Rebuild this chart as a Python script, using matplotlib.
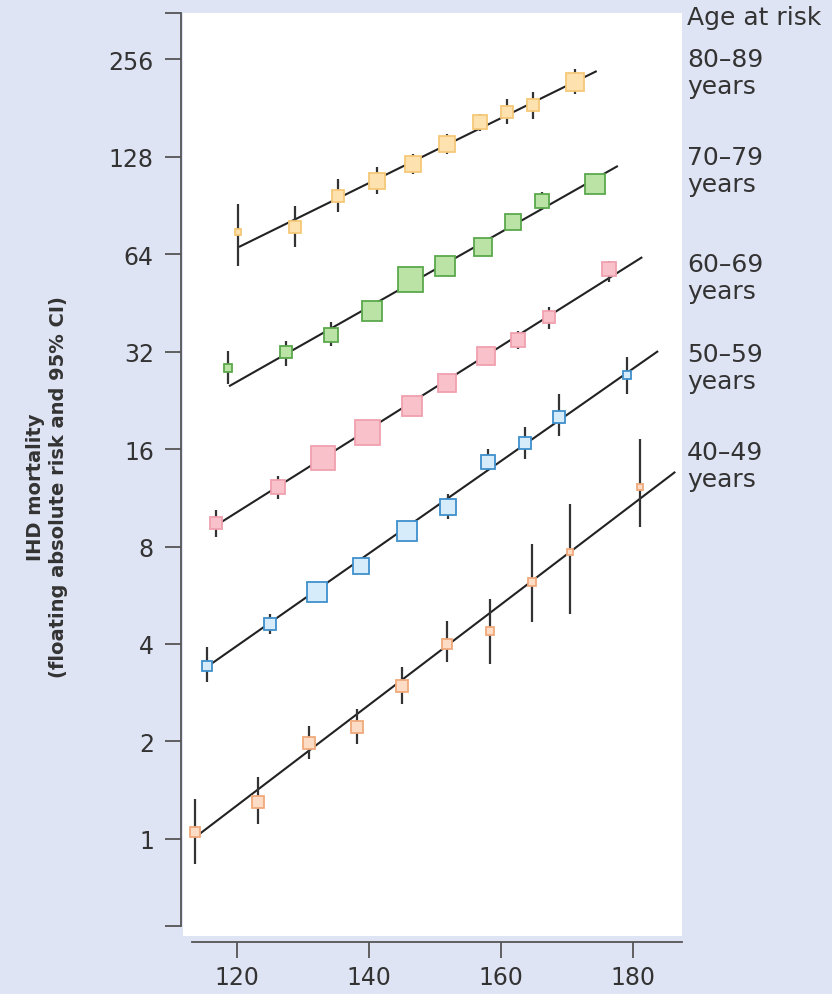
import matplotlib
matplotlib.use("Agg")
import matplotlib.pyplot as plt
from matplotlib.ticker import FixedLocator, FixedFormatter, NullLocator
import numpy as np

# ---------------- data ----------------
groups = ["40\u201349\nyears", "50\u201359\nyears", "60\u201369\nyears",
          "70\u201379\nyears", "80\u201389\nyears"]

sbp_4049 = [113.6, 123.2, 130.9, 138.2, 145.0, 151.8, 158.3, 164.7, 170.5, 181.1]
risk_4049 = [1.05, 1.30, 1.98, 2.22, 2.97, 4.0, 4.39, 6.21, 7.69, 12.2]
lo_4049 = [0.837, 1.11, 1.77, 1.96, 2.61, 3.52, 3.47, 4.68, 4.95, 9.19]
hi_4049 = [1.33, 1.55, 2.23, 2.52, 3.40, 4.71, 5.51, 8.14, 10.8, 17.2]
size_4049 = [7, 8, 8, 8, 8, 7, 6, 6, 5, 5]

sbp_5059 = [115.45, 125.0, 132.1, 138.8, 145.8, 152.0, 158.0, 163.6, 168.8, 179.1]
risk_5059 = [3.42, 4.61, 5.79, 6.96, 8.93, 10.6, 14.6, 16.7, 20.1, 27.1]
lo_5059 = [3.05, 4.29, 5.55, 6.65, 8.6, 9.73, 13.9, 14.9, 17.5, 23.7]
hi_5059 = [3.92, 4.95, 6.05, 7.3, 9.3, 11.6, 16.0, 18.7, 23.7, 30.8]
size_5059 = [7, 9, 15, 12, 14, 11, 10, 9, 8, 6]

sbp_6069 = [116.8, 126.2, 133.0, 139.7, 146.5, 151.8, 157.7, 162.6, 167.3, 176.4]
risk_6069 = [9.45, 12.2, 15.0, 18.1, 21.7, 25.6, 31.0, 34.7, 40.9, 57.5]
lo_6069 = [8.56, 11.2, 14.4, 17.4, 20.9, 24.5, 29.6, 32.6, 37.5, 52.4]
hi_6069 = [10.4, 13.2, 15.6, 18.8, 22.6, 26.8, 32.4, 37.0, 43.9, 60.9]
size_6069 = [8, 10, 17, 18, 14, 13, 13, 10, 9, 10]

sbp_7079 = [118.6, 127.4, 134.2, 140.5, 146.2, 151.5, 157.3, 161.8, 166.2, 174.2]
risk_7079 = [28.5, 31.9, 36.0, 42.7, 53.6, 58.8, 67.3, 80.4, 93.3, 105.0]
lo_7079 = [25.4, 28.9, 33.3, 41.0, 51.6, 56.4, 64.4, 76.5, 89.4, 100.0]
hi_7079 = [32.1, 34.5, 39.5, 44.5, 55.7, 61.3, 70.3, 84.5, 99.5, 110.0]
size_7079 = [6, 9, 10, 14, 18, 15, 13, 12, 10, 15]

sbp_8089 = [120.15, 128.8, 135.3, 141.2, 146.7, 151.8, 156.8, 160.9, 164.8, 171.2]
risk_8089 = [74.8, 77.6, 96.7, 107.5, 121.4, 139.9, 163.6, 175.6, 184.6, 217.5]
lo_8089 = [58.8, 67.3, 86.3, 98.0, 113.0, 130.0, 153.0, 161.0, 167.0, 200.0]
hi_8089 = [91.3, 90.0, 109.0, 119.0, 130.0, 150.0, 173.0, 193.0, 202.0, 238.0]
size_8089 = [5, 9, 9, 11, 11, 11, 10, 9, 9, 13]

fit_x = [[113.6, 186.4], [115.45, 183.8], [116.7, 181.4], [118.8, 177.7], [120.3, 174.5]]
fit_y = [[1.01, 13.6], [3.40, 32.1], [9.26, 62.6], [25.0, 119.7], [67.3, 235.0]]

yticks = [1, 2, 4, 8, 16, 32, 64, 128, 256]
xticks = [120, 140, 160, 180]

# ---------------- style ----------------
bg = "#dfe4f4"
fills = ["#fcdcc4", "#d6ecfa", "#f9c2ca", "#bce3a6", "#fde2b0"]
edges = ["#f0aa7c", "#3f90cc", "#f0a0ae", "#5aa84c", "#f5c878"]

W, H = 832, 995
fig = plt.figure(figsize=(W / 100, H / 100), dpi=100, facecolor=bg)

def fx(px):
    return px / W

def fy(py):
    return 1 - py / H

ax = fig.add_axes([fx(183), fy(937), fx(682) - fx(183), fy(14) - fy(937)])
ax.set_facecolor("white")
ax.set_yscale("log", base=2)
ax.set_xlim(111.82, 187.42)
ax.set_ylim(2 ** -0.995, 2 ** 8.472)

series = [
    (sbp_4049, risk_4049, lo_4049, hi_4049, size_4049),
    (sbp_5059, risk_5059, lo_5059, hi_5059, size_5059),
    (sbp_6069, risk_6069, lo_6069, hi_6069, size_6069),
    (sbp_7079, risk_7079, lo_7079, hi_7079, size_7079),
    (sbp_8089, risk_8089, lo_8089, hi_8089, size_8089),
]

for i, (xs, ys, lo, hi, sz) in enumerate(series):
    ax.plot(fit_x[i], fit_y[i], color="#222222", lw=1.5, zorder=2,
            solid_capstyle="butt")
    ax.vlines(xs, lo, hi, color="#333333", lw=1.6, zorder=2.5)
    for x, y, s in zip(xs, ys, sz):
        ax.plot([x], [y], marker="s", ms=s, mfc=fills[i], mec=edges[i],
                mew=1.3, ls="none", zorder=3)

# spines
for s in ["top", "right"]:
    ax.spines[s].set_visible(False)
ax.spines["left"].set_position(("outward", 1.5))
ax.spines["left"].set_bounds(2 ** -0.89, 2 ** 8.472)
ax.spines["bottom"].set_position(("outward", 4.5))
ax.spines["bottom"].set_bounds(113.2, 187.4)
for s in ["left", "bottom"]:
    ax.spines[s].set_color("#555555")
    ax.spines[s].set_linewidth(1.3)

yt = [2 ** -0.89] + yticks + [2 ** 8.472]
ax.yaxis.set_major_locator(FixedLocator(yt))
ax.yaxis.set_major_formatter(FixedFormatter([""] + [str(v) for v in yticks] + [""]))
ax.yaxis.set_minor_locator(NullLocator())
ax.xaxis.set_major_locator(FixedLocator(xticks))
ax.set_xticklabels([str(v) for v in xticks])
ax.xaxis.set_minor_locator(NullLocator())

ax.tick_params(axis="both", direction="out", length=11.5, width=1.3,
               color="#555555", labelsize=17, labelcolor="#333333")
ax.tick_params(axis="y", pad=8)
ax.tick_params(axis="x", pad=5)

# y label (two lines, bold)
fig.text(fx(47), fy(487), "IHD mortality\n(floating absolute risk and 95% CI)",
         rotation=90, ha="center", va="center", multialignment="center",
         fontsize=14, fontweight="bold", color="#333333", linespacing=1.3)

# right-side labels
fig.text(fx(687), fy(6), "Age at risk", ha="left", va="top",
         fontsize=18, color="#333333")
label_tops = [441, 343, 253, 146, 48]
for lab, top in zip(groups, label_tops):
    fig.text(fx(687), fy(top), lab, ha="left", va="top",
             fontsize=18, color="#333333", linespacing=1.15)

fig.savefig("out.png", dpi=100, facecolor=bg)
